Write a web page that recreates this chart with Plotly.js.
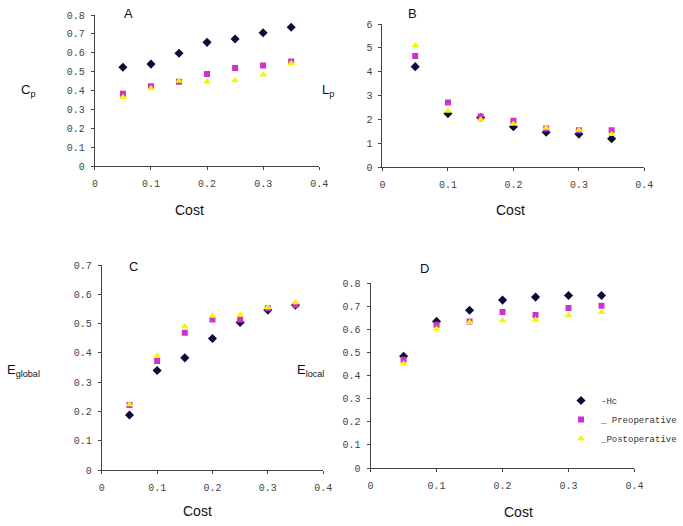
<!DOCTYPE html>
<html><head><meta charset="utf-8">
<script src="https://cdn.plot.ly/plotly-3.0.1.min.js"></script>
<style>body{margin:0;background:#fff}#c{width:683px;height:526px}</style>
</head><body><div id="c"></div>
<script>
const cost = [0.05, 0.1, 0.15, 0.2, 0.25, 0.3, 0.35];
const seriesNames = ["-Hc", "_ Preoperative", "_Postoperative"];
// Panel A: Cp
const cpHc   = [0.523, 0.540, 0.597, 0.655, 0.673, 0.706, 0.735];
const cpPre  = [0.383, 0.422, 0.447, 0.487, 0.519, 0.532, 0.553];
const cpPost = [0.364, 0.410, 0.450, 0.447, 0.454, 0.484, 0.544];
// Panel B: Lp
const lpHc   = [4.21, 2.24, 2.08, 1.69, 1.46, 1.38, 1.19];
const lpPre  = [4.66, 2.71, 2.12, 1.94, 1.62, 1.54, 1.54];
const lpPost = [5.10, 2.35, 1.97, 1.80, 1.64, 1.55, 1.37];
// Panel C: Eglobal
const egHc   = [0.188, 0.340, 0.383, 0.449, 0.504, 0.546, 0.563];
const egPre  = [0.222, 0.372, 0.469, 0.514, 0.514, 0.552, 0.563];
const egPost = [0.224, 0.389, 0.490, 0.526, 0.529, 0.555, 0.572];
// Panel D: Elocal
const elHc   = [0.483, 0.634, 0.682, 0.726, 0.739, 0.746, 0.746];
const elPre  = [0.468, 0.620, 0.634, 0.675, 0.662, 0.692, 0.702];
const elPost = [0.451, 0.601, 0.630, 0.638, 0.641, 0.659, 0.674];

const W = 683, H = 526;
const styles = [
  {symbol: 'diamond', color: '#0b0b3b', size: 7},
  {symbol: 'square', color: '#cc33cc', size: 6},
  {symbol: 'triangle-up', color: '#f5f500', size: 7}
];
const panels = [
  {xa: 'x', ya: 'y', sets: [cpHc, cpPre, cpPost]},
  {xa: 'x2', ya: 'y2', sets: [lpHc, lpPre, lpPost]},
  {xa: 'x3', ya: 'y3', sets: [egHc, egPre, egPost]},
  {xa: 'x4', ya: 'y4', sets: [elHc, elPre, elPost], legend: true}
];
const traces = [];
panels.forEach(p => {
  p.sets.forEach((vals, i) => {
    traces.push({
      type: 'scatter', mode: 'markers', x: cost, y: vals,
      xaxis: p.xa, yaxis: p.ya, name: seriesNames[i],
      showlegend: !!p.legend,
      marker: {symbol: styles[i].symbol, color: styles[i].color, size: styles[i].size, line: {width: 0}}
    });
  });
});

function xd(l, r) { return [l / W, r / W]; }
function yd(top, bot) { return [(H - bot) / H, (H - top) / H]; }
const tickFont = {family: 'Liberation Mono, monospace', size: 10, color: '#444'};
function xax(l, r, anchor) {
  return {domain: xd(l, r), anchor: anchor, range: [0, 0.4], dtick: 0.1, tick0: 0,
    showline: true, linecolor: '#444', linewidth: 1, ticks: 'outside', ticklen: 3, tickcolor: '#444',
    showgrid: false, zeroline: false, tickfont: tickFont, ticklabelstandoff: 5};
}
function yax(top, bot, anchor, max, dt) {
  return {domain: yd(top, bot), anchor: anchor, range: [0, max], dtick: dt, tick0: 0,
    showline: true, linecolor: '#444', linewidth: 1, ticks: 'outside', ticklen: 3, tickcolor: '#444',
    showgrid: false, zeroline: false, tickfont: tickFont, ticklabelstandoff: 4};
}
const lab = (x, y, text, size) => ({xref: 'paper', yref: 'paper', x: x / W, y: (H - y) / H,
  text: text, showarrow: false, xanchor: 'center', yanchor: 'middle',
  font: {family: 'Liberation Sans, Arial', size: size || 13, color: '#111'}});

const layout = {
  width: W, height: H, margin: {l: 0, r: 0, t: 0, b: 0},
  paper_bgcolor: '#fff', plot_bgcolor: '#fff',
  xaxis: xax(96, 323, 'y'), yaxis: yax(15, 166, 'x', 0.8, 0.1),
  xaxis2: xax(387, 652, 'y2'), yaxis2: yax(24, 167, 'x2', 6, 1),
  xaxis3: xax(103, 327, 'y3'), yaxis3: yax(265, 470, 'x3', 0.7, 0.1),
  xaxis4: xax(375, 642, 'y4'), yaxis4: yax(283, 468, 'x4', 0.8, 0.1),
  showlegend: true,
  legend: {x: 568 / W, y: (H - 386) / H, xanchor: 'left', yanchor: 'top', bgcolor: 'rgba(0,0,0,0)',
    font: {family: 'Liberation Mono, monospace', size: 9, color: '#333'}, itemwidth: 30, tracegroupgap: 0},
  annotations: [
    lab(130, 13, 'A', 13), lab(417, 13, 'B', 13), lab(135, 266, 'C', 13), lab(430, 268, 'D', 13),
    lab(28, 90, 'C<sub>p</sub>', 13), lab(332, 90, 'L<sub>p</sub>', 13),
    lab(24, 370, 'E<sub>global</sub>', 13), lab(314, 370, 'E<sub>local</sub>', 13),
    lab(192, 210, 'Cost', 14), lab(517, 210, 'Cost', 14), lab(200, 511, 'Cost', 14), lab(525, 512, 'Cost', 14)
  ]
};
Plotly.newPlot('c', traces, layout, {staticPlot: true, displayModeBar: false});
</script></body></html>
